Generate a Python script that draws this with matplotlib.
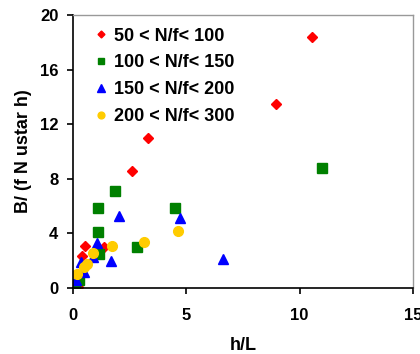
import matplotlib
matplotlib.use("Agg")
import matplotlib.pyplot as plt

plt.rcParams['font.family'] = ['Liberation Sans', 'DejaVu Sans']

labels = ["50 < N/f< 100", "100 < N/f< 150", "150 < N/f< 200", "200 < N/f< 300"]

red_x = [10.54, 8.95, 3.31, 2.6, 1.38, 0.53, 0.38, 0.22]
red_y = [18.4, 13.5, 11.0, 8.57, 3.03, 3.1, 2.34, 0.05]

green_x = [11.0, 1.85, 1.12, 4.5, 1.09, 2.81, 1.16, 0.25, 0.08]
green_y = [8.77, 7.14, 5.88, 5.88, 4.13, 3.03, 2.49, 0.58, 0.32]

blue_x = [6.6, 4.72, 2.03, 1.04, 1.68, 0.87, 0.37, 0.47, 0.12]
blue_y = [2.1, 5.12, 5.3, 3.27, 2.0, 2.25, 1.93, 1.2, 0.6]

yellow_x = [4.65, 3.13, 1.7, 0.88, 0.6, 0.47, 0.16]
yellow_y = [4.2, 3.4, 3.1, 2.6, 1.75, 1.55, 1.07]

fig = plt.figure(figsize=(4.2, 3.54), dpi=100)
ax = fig.add_axes([0.174, 0.186, 0.809, 0.772])

ax.plot(red_x, red_y, linestyle='none', marker='D', color='#FF0000', markersize=5, label=labels[0])
ax.plot(green_x, green_y, linestyle='none', marker='s', color='#008000', markersize=6.5, label=labels[1])
ax.plot(blue_x, blue_y, linestyle='none', marker='^', color='#0000FF', markersize=7.5, label=labels[2])
ax.plot(yellow_x, yellow_y, linestyle='none', marker='o', color='#FFCC00', markersize=7, label=labels[3])

ax.set_xlim(0, 15)
ax.set_ylim(0, 20)
ax.set_xticks([0, 5, 10, 15])
ax.set_yticks([0, 4, 8, 12, 16, 20])

for s in ['left', 'bottom']:
    ax.spines[s].set_color('#000000')
    ax.spines[s].set_linewidth(1.2)
for s in ['top', 'right']:
    ax.spines[s].set_color('#999999')
    ax.spines[s].set_linewidth(1.0)

ax.tick_params(axis='both', direction='out', length=4.5, width=1.2, labelsize=12)
ax.tick_params(axis='y', pad=6)
ax.tick_params(axis='x', pad=10)
for t in ax.get_xticklabels() + ax.get_yticklabels():
    t.set_fontweight('bold')

ax.set_xlabel('h/L', fontsize=13, fontweight='bold', labelpad=10)
ax.set_ylabel('B/ (f N ustar h)', fontsize=13, fontweight='bold', labelpad=6)

leg = ax.legend(loc='upper left', bbox_to_anchor=(0.025, 1.0), frameon=False,
                prop={'size': 13, 'weight': 'bold'}, markerscale=0.7,
                handlelength=0.7, handletextpad=0.4, labelspacing=0.55,
                borderaxespad=0.3)

fig.savefig('out.png', dpi=100)
